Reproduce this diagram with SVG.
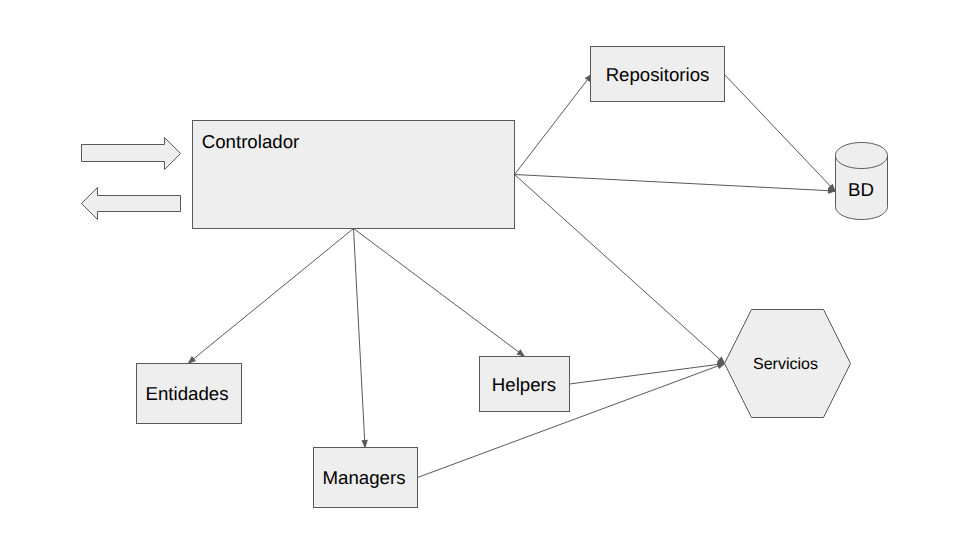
<svg xmlns="http://www.w3.org/2000/svg" width="960" height="540" viewBox="0 0 960 540">
<style>
.s{fill:#eeeeee;stroke:#595959;stroke-width:1}
.c{fill:none;stroke:#595959;stroke-width:1;marker-end:url(#a)}
text{font-family:"Liberation Sans",Arial,sans-serif;font-size:18.67px;fill:#000;text-anchor:middle;text-rendering:geometricPrecision}
</style>
<defs><marker id="a" markerUnits="userSpaceOnUse" markerWidth="9" markerHeight="8" refX="8" refY="4" orient="auto"><path d="M1.500 1.500 L8 4 L1.500 6.500 Z" fill="#595959" stroke="#595959" stroke-width="1"/></marker></defs>
<rect width="960" height="540" fill="#fff"/>
<g id="connectors">
<path class="c" d="M514.500 174.500L591.500 74.500"/>
<path class="c" d="M724.500 74.500L835 191"/>
<path class="c" d="M514.500 174.500L835 191"/>
<path class="c" d="M514.500 174.500L724.500 363.500"/>
<path class="c" d="M353.500 228.500L188.500 363"/>
<path class="c" d="M353.500 228.500L365 447"/>
<path class="c" d="M353.500 228.500L524 356"/>
<path class="c" d="M569.500 384L724.500 363.500"/>
<path class="c" d="M417.500 477.500L724.500 363.500"/>
</g>
<g id="arrow-in"><path class="s" d="M81.500 144.500H164.500V137.500L180.500 153.500L164.500 169.500V161.500H81.500Z"/></g>
<g id="arrow-out"><path class="s" d="M180.500 195.500H97.500V187.500L81.500 203.500L97.500 219.500V211.500H180.500Z"/></g>
<g id="controlador"><rect class="s" x="192.500" y="120.500" width="322" height="108"/><text x="250.500" y="147.500">Controlador</text></g>
<g id="repositorios"><rect class="s" x="590.500" y="46.500" width="134" height="55"/><text x="657.500" y="80.500">Repositorios</text></g>
<g id="bd"><path class="s" d="M835.500 155.500C835.500 148 847 142.500 861.500 142.500C876 142.500 887.500 148 887.500 155.500V206.500C887.500 214 876 219.500 861.500 219.500C847 219.500 835.500 214 835.500 206.500Z"/><path class="s" style="fill:none" d="M835.500 155.500C835.500 163 847 168.500 861.500 168.500C876 168.500 887.500 163 887.500 155.500"/><text x="861" y="196">BD</text></g>
<g id="servicios"><path class="s" d="M724.500 363.500L751.500 309.500H823.500L850.500 363.500L823.500 417.500H751.500Z"/><text x="785.500" y="369" style="font-size:16px">Servicios</text></g>
<g id="entidades"><rect class="s" x="136.500" y="363.500" width="105" height="60"/><text x="187" y="400">Entidades</text></g>
<g id="helpers"><rect class="s" x="479.500" y="356.500" width="90" height="55"/><text x="524" y="391">Helpers</text></g>
<g id="managers"><rect class="s" x="313.500" y="447.500" width="104" height="60"/><text x="364" y="484">Managers</text></g>
</svg>
